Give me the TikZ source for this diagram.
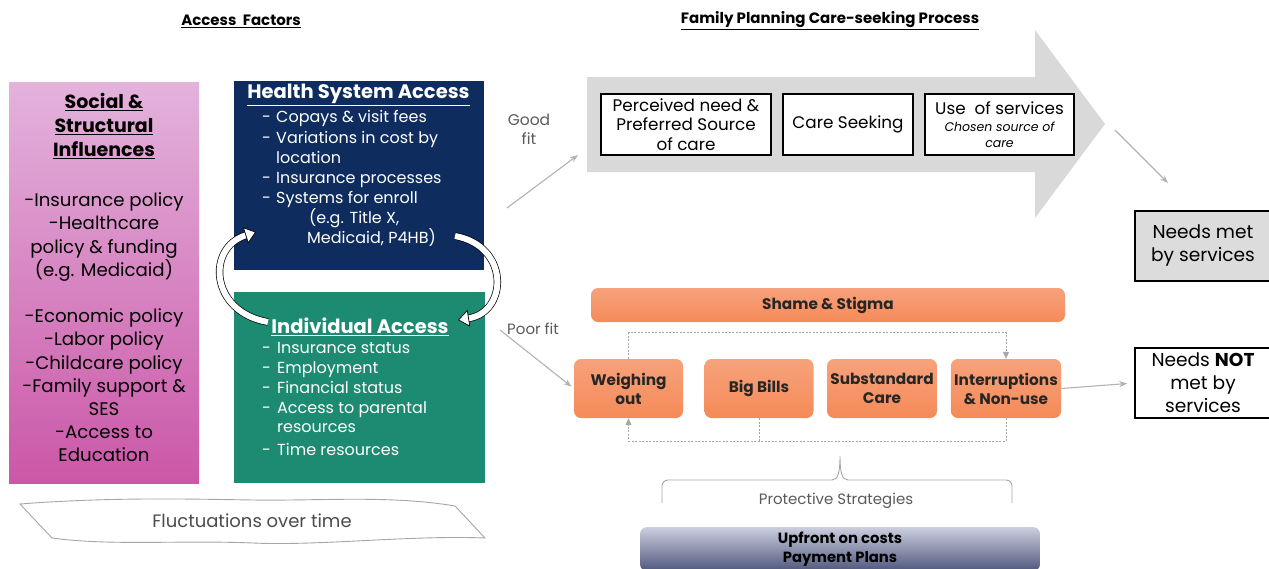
\documentclass[tikz,border=0pt]{standalone}
\usepackage{fontspec}
\setmainfont{Poppins}
\usetikzlibrary{arrows.meta,positioning}

\definecolor{pinktop}{HTML}{E3B3DC}
\definecolor{pinkbot}{HTML}{CB57A8}
\definecolor{navy}{HTML}{0E2D5E}
\definecolor{teal}{HTML}{1D8B71}
\definecolor{arrowgray}{HTML}{D9D9D9}
\definecolor{needgray}{HTML}{DCDCDC}
\definecolor{orangetop}{HTML}{F7A27C}
\definecolor{orangemid}{HTML}{FCC6AB}
\definecolor{orangebot}{HTML}{F58A58}
\definecolor{slatetop}{HTML}{CBCFE0}
\definecolor{slatebot}{HTML}{4F577C}
\definecolor{notegray}{HTML}{5A5A5A}

\newcommand{\smallit}{\fontsize{12.5}{16}\selectfont\itshape}

\tikzset{
  heading/.style={font=\fontsize{15}{18}\selectfont\bfseries},
  panel/.style={draw=none, inner sep=0},
  paneltitle/.style={font=\fontsize{19}{24}\selectfont\bfseries, align=center},
  item/.style={anchor=west, inner sep=0, text height=11pt, text depth=3pt,
    font=\fontsize{16}{20}\selectfont, text=white},
  cyclearrow/.style={draw=black, line width=0.7pt, double=white, double distance=6pt,
    -{Triangle[open, fill=white, length=11pt, width=17pt]}},
  stepbox/.style={draw=black, line width=1.6pt, fill=white, minimum height=61,
    align=center, inner sep=2pt, font=\fontsize{16.8}{19.5}\selectfont},
  outbox/.style={draw=black, line width=1.6pt, minimum width=136, minimum height=70,
    align=center, font=\fontsize{18.6}{23}\selectfont},
  orangebox/.style={rounded corners=7pt, top color=orangetop, middle color=orangemid,
    bottom color=orangebot, minimum width=109, minimum height=59, align=center,
    font=\fontsize{15.3}{19}\selectfont\bfseries, text=black!85},
  slatebar/.style={rounded corners=7pt, top color=slatetop, bottom color=slatebot,
    align=center, font=\fontsize{14.8}{19}\selectfont\bfseries},
  note/.style={text=notegray, align=center, font=\fontsize{15}{19}\selectfont},
  fitarrow/.style={draw=gray!60, line width=1.1pt, -{Stealth[length=8pt, width=6pt]}},
  loopline/.style={draw=gray!70, line width=0.8pt, dash pattern=on 2pt off 1.5pt},
  looptip/.style={-{Triangle[length=7pt, width=6pt]}},
}

\begin{document}
\begin{tikzpicture}[x=1pt, y=-1pt]
\useasboundingbox (0,0) rectangle (1269,568);

% titles
\node[heading] (accesshead) at (241,21) {\underline{Access\ \ Factors}};
\node[heading] (processhead) at (830,21) {\underline{Family Planning Care-seeking Process}};

% social and structural influences
\node[panel, minimum width=190, minimum height=401, top color=pinktop, bottom color=pinkbot] (social) at (104,282.5) {};
\node[paneltitle] (socialtitle) at (104,126) {\underline{Social \&}\\ \underline{Structural}\\ \underline{Influences}};
\node[align=center, font=\fontsize{18.2}{23.2}\selectfont] (sociallist) at (104,327.5)
  {-Insurance policy\\ -Healthcare\\ policy \& funding\\ (e.g. Medicaid)\\[23.2pt]
   -Economic policy\\ -Labor policy\\ -Childcare policy\\ -Family support \&\\ SES\\
   -Access to\\ Education};

% health system access
\node[panel, fill=navy, minimum width=250, minimum height=189] (health) at (359,175.5) {};
\node[paneltitle, font=\fontsize{19.5}{24}\selectfont\bfseries, text=white] (healthtitle) at (358.5,95) {\underline{Health System Access}};
\foreach \y/\t in {118/Copays \& visit fees, 139/Variations in cost by,
                   179/Insurance processes, 199/Systems for enroll}
  \node[item] (hs\y) at (262,\y) {\makebox[14pt][l]{-}\t};
\node[item] (hsloc) at (276,159) {location};
\node[item] (hseg) at (309,219) {(e.g. Title X,};
\node[item] (hsmed) at (307,239) {Medicaid, P4HB)};

% individual access
\node[panel, fill=teal, minimum width=251, minimum height=191] (indiv) at (359.5,387.5) {};
\node[paneltitle, font=\fontsize{19.5}{24}\selectfont\bfseries, text=white] (indivtitle) at (360,327) {\underline{Individual Access}};
\foreach \y/\t in {349/Insurance status, 369/Employment, 389/Financial status,
                   409/Access to parental, 451/Time resources}
  \node[item] (ia\y) at (262,\y) {\makebox[15pt][l]{-}\t};
\node[item] (iares) at (277,428) {resources};

% the two access boxes feed each other
\draw[cyclearrow] (268,322) .. controls (210,312) and (206,248) .. (256,232);
\draw[cyclearrow] (455,236) .. controls (510,246) and (508,312) .. (458,320);

% fluctuations banner
\draw[gray!70, line width=0.9pt, fill=white]
  (20,504) .. controls (110,497) and (190,499) .. (253,500)
  .. controls (320,501) and (390,495) .. (455,506) -- (485,538)
  .. controls (410,535) and (320,546) .. (253,543)
  .. controls (180,540) and (110,546) .. (52,538) -- cycle;
\node[note, font=\fontsize{18}{22}\selectfont, text=black!70] (fluct) at (252,521) {Fluctuations over time};

% care-seeking process arrow
\fill[arrowgray] (587,77) -- (1035,77) -- (1035,30) -- (1105,124) -- (1035,218)
  -- (1035,172) -- (587,172) -- cycle;
\node[stepbox, minimum width=170] (perceived) at (686,124.5) {Perceived need \&\\ Preferred Source\\ of care};
\node[stepbox, minimum width=130] (seeking) at (848,124.5) {Care Seeking};
\node[stepbox, minimum width=149] (useserv) at (999.5,124.5)
  {Use\ \ of services\\[-2pt] {\smallit Chosen source of}\\[-4pt] {\smallit care}};

\node[note, font=\fontsize{15.5}{19}\selectfont] (goodfit) at (529,129) {Good\\ fit};
\node[note] (poorfit) at (533,329) {Poor fit};

% outcomes
\node[outbox, fill=needgray] (needsmet) at (1203,246) {Needs met\\ by services};
\node[outbox, fill=white] (needsnot) at (1203,383) {Needs \textbf{NOT}\\ met by\\ services};

% barriers
\node[orangebox, minimum width=474, minimum height=34] (shame) at (828,305) {Shame \& Stigma};
\node[orangebox] (weigh) at (628.5,388.5) {Weighing\\ out};
\node[orangebox] (bills) at (759,388.5) {Big Bills};
\node[orangebox] (substd) at (882,388.5) {Substandard\\ Care};
\node[orangebox] (interr) at (1006,388.5) {Interruptions\\ \& Non-use};

\draw[loopline, looptip, gray!70] (weigh.north) -- ++(0,-26) -| (interr.north);
\draw[loopline, looptip, gray!70] (interr.south) -- ++(0,23) -| (weigh.south);
\draw[loopline] (bills.south) -- ++(0,23);

% fit arrows
\coordinate (goodfrom) at (507,208);
\coordinate (goodto) at (578,155);
\coordinate (poorfrom) at (500,330);
\coordinate (tipfrom) at (1115,130);
\coordinate (metto) at (1168,183);
\draw[fitarrow] (goodfrom) -- (goodto);
\draw[fitarrow, shorten >=3pt] (poorfrom) -- (weigh.west);
\draw[fitarrow] (tipfrom) -- (metto);
\draw[fitarrow, shorten >=7pt] (interr.east) -- (needsnot.west);

% protective strategies
\draw[gray!70, line width=0.9pt, rounded corners=6pt] (662,503) -- (662,480) -- (832,480);
\draw[gray!70, line width=0.9pt] (832,480) .. controls (838,480) and (840,472) .. (840,456)
  .. controls (840,472) and (842,480) .. (848,480);
\draw[gray!70, line width=0.9pt, rounded corners=6pt] (848,480) -- (1012,480) -- (1012,503);
\node[note] (protect) at (836,501) {Protective Strategies};
\node[slatebar, minimum width=400, minimum height=44] (upfront) at (840,549) {Upfront on costs\\ Payment Plans};
\end{tikzpicture}
\end{document}
